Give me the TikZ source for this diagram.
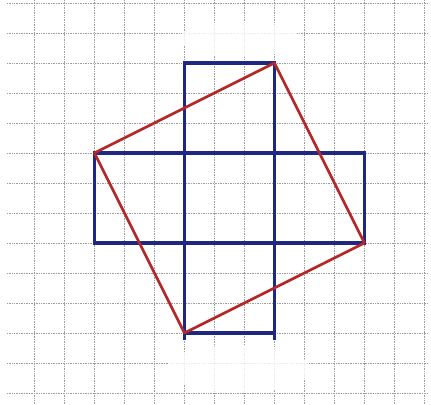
\documentclass[tikz,border=0pt]{standalone}
\definecolor{inkblue}{RGB}{30,40,130}
\definecolor{inkred}{RGB}{180,40,40}
\begin{document}
\begin{tikzpicture}[
  gridline/.style={draw=black!38, line width=0.55pt, dash pattern=on 0.7pt off 0.9pt},
  blot/.style={fill=white, opacity=0.8},
  cross/.style={draw=inkblue, line width=3pt},
  sq/.style={draw=inkred, line width=2.6pt, line join=round}]
  \useasboundingbox[fill=white] (-0.147,0.1) rectangle (14.22,-13.367);
  % squared paper
  \foreach \i in {1,...,14} \draw[gridline] (\i,0.1) -- (\i,-13.367);
  \foreach \j in {0,...,13} \draw[gridline] (0.09,-\j) -- (14.12,-\j);
  % correction fluid
  \fill[blot] (7.85,-1.2) ellipse (2 and 0.6);
  \fill[blot] (7.8,-12.2) ellipse (2.4 and 0.8);
  % corners
  \coordinate (t) at (9,-2);
  \coordinate (r) at (12,-8);
  \coordinate (b) at (6,-11);
  \coordinate (l) at (3,-5);
  % cross of five squares
  \draw[cross] (6,-2) rectangle (9,-11);
  \draw[cross] (l) rectangle (12,-8);
  \draw[cross] (b) -- (6,-11.25);
  \draw[cross] (9,-11) -- (9,-11.25);
  % square of equal area
  \draw[sq] (l) -- (t) -- (r) -- (b) -- cycle;
\end{tikzpicture}
\end{document}
